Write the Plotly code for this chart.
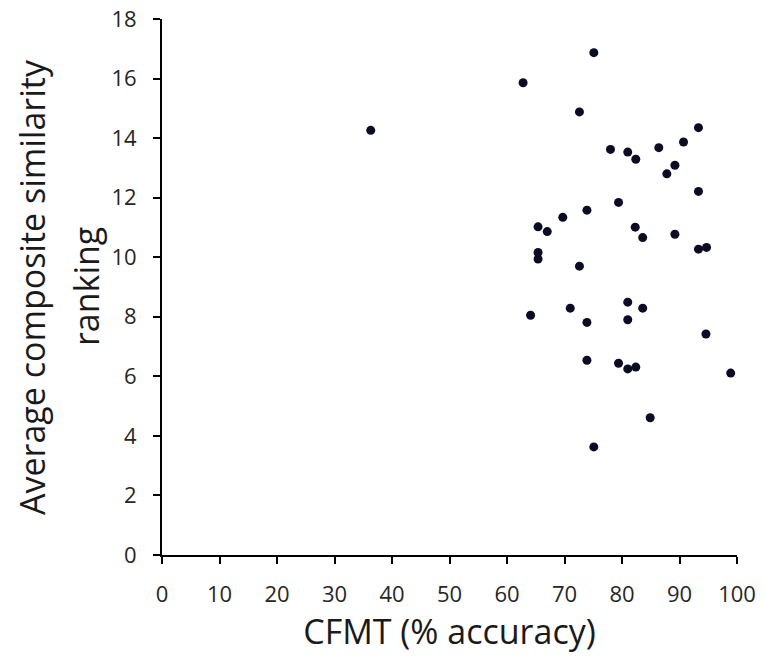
import plotly.graph_objects as go

# CFMT accuracy (%) and average composite similarity ranking per participant
cfmt = [75.1, 62.8, 72.6, 93.3, 90.7, 78.0, 81.0, 82.4, 86.4, 89.2,
        87.8, 93.3, 79.4, 73.9, 69.7, 65.4, 67.0, 82.3, 83.6, 89.2,
        93.3, 94.7, 65.4, 65.4, 72.6, 81.0, 64.1, 71.0, 73.9, 83.6,
        81.0, 94.6, 73.9, 79.4, 81.0, 82.4, 98.9, 84.9, 75.1, 36.3]
ranking = [16.87, 15.86, 14.88, 14.35, 13.87, 13.62, 13.53, 13.29, 13.68, 13.09,
           12.80, 12.21, 11.84, 11.58, 11.34, 11.02, 10.86, 11.01, 10.66, 10.77,
           10.27, 10.33, 10.16, 9.94, 9.70, 8.49, 8.05, 8.29, 7.81, 8.29,
           7.90, 7.42, 6.54, 6.44, 6.25, 6.31, 6.11, 4.61, 3.63, 14.26]

x_ticks = list(range(0, 101, 10))
y_ticks = list(range(0, 19, 2))
y_title_lines = ["Average composite similarity", "ranking"]

font_family = "Open Sans, Liberation Sans, sans-serif"
title_font = dict(family=font_family, size=34, color="#1a1a1a")

fig = go.Figure(
    go.Scatter(
        x=cfmt,
        y=ranking,
        mode="markers",
        marker=dict(size=9, color="#0b0b24"),
        showlegend=False,
    )
)

axis_common = dict(
    showline=True,
    linecolor="black",
    linewidth=2,
    ticks="outside",
    ticklen=7,
    tickwidth=2,
    tickcolor="black",
    showgrid=False,
    zeroline=False,
    automargin=False,
    ticklabelstandoff=12,
    tickfont=dict(family=font_family, size=22, color="#262626"),
)

fig.update_layout(
    width=763,
    height=657,
    margin=dict(l=162, r=26, t=19, b=102),
    plot_bgcolor="white",
    paper_bgcolor="white",
    xaxis=dict(
        range=[0, 100],
        tickvals=x_ticks,
        title=dict(text="CFMT (% accuracy)", standoff=10, font=title_font),
        **axis_common,
    ),
    yaxis=dict(
        range=[0, 18],
        tickvals=y_ticks,
        **axis_common,
    ),
)

# two-line vertical axis title, one annotation per line
for line, xpos in zip(y_title_lines, [-0.226, -0.132]):
    fig.add_annotation(
        text=line,
        xref="paper", yref="paper",
        x=xpos, y=0.5,
        xanchor="center", yanchor="middle",
        textangle=-90,
        showarrow=False,
        font=title_font,
    )

fig.write_html("out.html")
